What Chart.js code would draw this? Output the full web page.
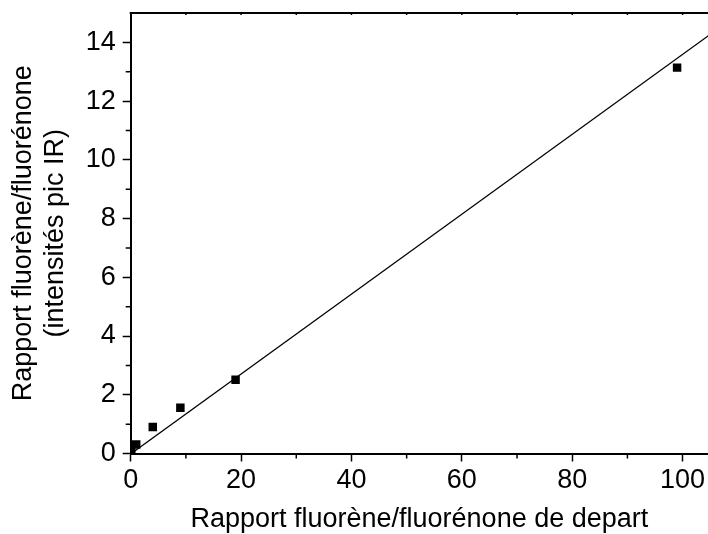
<!DOCTYPE html>
<html lang="fr">
<head>
    <meta charset="UTF-8">
    <title>Rapport fluorène/fluorénone</title>
    <script src="https://cdn.jsdelivr.net/npm/chart.js@4.4.1/dist/chart.umd.min.js"></script>
    <style>
        body { margin: 0; background: #fff; }
        #wrap { width: 708px; height: 534px; }
    </style>
</head>
<body>
    <div id="wrap"><canvas id="fitChart" width="708" height="534"></canvas></div>
    <script>
        // mesures (points carres)
        const ratioDepart = [0.11, 1, 4, 9, 19, 99];
        const ratioIR = [0.1, 0.31, 0.9, 1.56, 2.51, 13.14];

        // droite d'ajustement, extremites
        const fitX = [0.11, 105];
        const fitY = [0.0, 14.27];

        const xTicks = [0, 20, 40, 60, 80, 100];
        const xMinor = [10, 30, 50, 70, 90];
        const yTicks = [0, 2, 4, 6, 8, 10, 12, 14];
        const yMinor = [1, 3, 5, 7, 9, 11, 13];
        const xTopTicks = [10, 20, 30, 40, 50, 60, 70, 80, 90, 100];

        const fontFamily = '"Liberation Sans", Arial, sans-serif';

        // petites graduations + cadre du haut
        const frame = {
            id: 'frame',
            afterDraw(chart) {
                const ctx = chart.ctx;
                const area = chart.chartArea;
                const xs = chart.scales.x;
                const ys = chart.scales.y;
                ctx.save();
                ctx.strokeStyle = '#000';
                ctx.lineWidth = 1.5;
                ctx.beginPath();
                xMinor.forEach(v => {
                    const px = xs.getPixelForValue(v);
                    ctx.moveTo(px, area.bottom);
                    ctx.lineTo(px, area.bottom + 5);
                });
                yMinor.forEach(v => {
                    const py = ys.getPixelForValue(v);
                    ctx.moveTo(area.left, py);
                    ctx.lineTo(area.left - 5, py);
                });
                xTopTicks.forEach(v => {
                    const px = xs.getPixelForValue(v);
                    ctx.moveTo(px, area.top);
                    ctx.lineTo(px, area.top + 2);
                });
                ctx.stroke();
                ctx.lineWidth = 2;
                ctx.beginPath();
                ctx.moveTo(area.left - 1, area.top);
                ctx.lineTo(area.right, area.top);
                ctx.stroke();
                ctx.restore();
            }
        };

        new Chart(document.getElementById('fitChart'), {
            type: 'scatter',
            data: {
                datasets: [{
                    label: 'mesures',
                    data: ratioDepart.map((x, i) => ({ x: x, y: ratioIR[i] })),
                    pointStyle: 'rect',
                    pointRadius: 6,
                    pointBorderWidth: 0,
                    backgroundColor: '#000',
                    borderColor: '#000'
                }, {
                    type: 'line',
                    label: 'ajustement',
                    data: fitX.map((x, i) => ({ x: x, y: fitY[i] })),
                    borderColor: '#000',
                    borderWidth: 1.3,
                    pointRadius: 0,
                    fill: false
                }]
            },
            options: {
                responsive: false,
                animation: false,
                devicePixelRatio: 1,
                layout: {
                    autoPadding: false,
                    padding: { top: 13, right: 0, left: 0, bottom: 0 }
                },
                plugins: {
                    legend: { display: false },
                    tooltip: { enabled: false }
                },
                scales: {
                    x: {
                        type: 'linear',
                        min: 0,
                        max: 104.6,
                        afterBuildTicks: axis => { axis.ticks = xTicks.map(v => ({ value: v })); },
                        afterFit: axis => {
                            axis.height = 80.5;
                            axis.paddingLeft = 0;
                            axis.paddingRight = 0;
                        },
                        grid: {
                            drawOnChartArea: false,
                            tickLength: 8,
                            tickWidth: 1.5,
                            tickColor: '#000'
                        },
                        border: { color: '#000', width: 2 },
                        ticks: {
                            color: '#000',
                            padding: 3,
                            maxRotation: 0,
                            font: { family: fontFamily, size: 27 }
                        },
                        title: {
                            display: true,
                            text: 'Rapport fluorène/fluorénone de depart',
                            color: '#000',
                            padding: 0,
                            font: { family: fontFamily, size: 27, lineHeight: 1.05 }
                        }
                    },
                    y: {
                        type: 'linear',
                        min: 0,
                        max: 15,
                        afterBuildTicks: axis => { axis.ticks = yTicks.map(v => ({ value: v })); },
                        afterFit: axis => {
                            axis.width = 130.7;
                            axis.paddingTop = 0;
                            axis.paddingBottom = 0;
                        },
                        grid: {
                            drawOnChartArea: false,
                            tickLength: 8,
                            tickWidth: 1.5,
                            tickColor: '#000'
                        },
                        border: { color: '#000', width: 2 },
                        ticks: {
                            color: '#000',
                            padding: 7,
                            font: { family: fontFamily, size: 27 }
                        },
                        title: {
                            display: true,
                            text: ['Rapport fluorène/fluorénone', '(intensités pic IR)'],
                            color: '#000',
                            padding: { top: 8, bottom: 0 },
                            font: { family: fontFamily, size: 27, lineHeight: 1.17 }
                        }
                    }
                }
            },
            plugins: [frame]
        });
    </script>
</body>
</html>
